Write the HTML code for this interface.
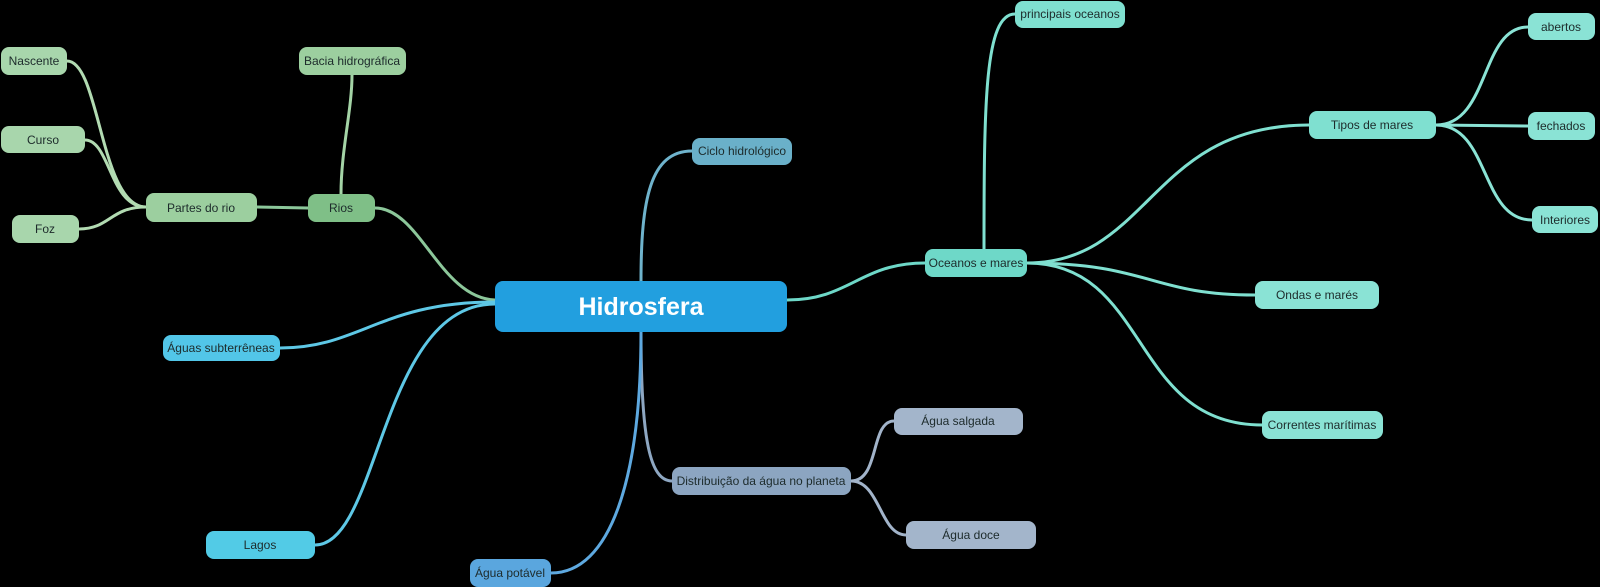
<!DOCTYPE html>
<html><head><meta charset="utf-8"><style>
html,body{margin:0;padding:0;background:#000;}
svg{display:block}
text{font-family:"Liberation Sans",sans-serif;font-size:12px;fill:#1d2b2b;text-anchor:middle;dominant-baseline:central}
</style></head><body>
<svg width="1600" height="587" viewBox="0 0 1600 587" xmlns="http://www.w3.org/2000/svg">
<g fill="none" stroke-width="3" stroke-linecap="round">
<path d="M495,300 C440,298 420,208 375,208" stroke="#8cc79a"/>
<path d="M308,208 L257,207" stroke="#8cc79a"/>
<path d="M341,194 C341,150 352,110 352,75" stroke="#a4d4a6"/>
<path d="M146,207 C100,207 100,61 67,61" stroke="#b2dbb2"/>
<path d="M146,207 C110,207 110,140 85,140" stroke="#b2dbb2"/>
<path d="M146,207 C110,207 110,229 79,229" stroke="#b2dbb2"/>
<path d="M495,302 C380,302 360,348 280,348" stroke="#5ec8e6"/>
<path d="M495,304 C380,304 380,545 315,545" stroke="#5ec8e6"/>
<path d="M641,281 C641,200 650,151 692,151" stroke="#6fb3cc"/>
<path d="M641,332 C641,440 650,481 672,481" stroke="#8ea7c2"/>
<path d="M641,332 C641,480 610,573 551,573" stroke="#5ea9e0"/>
<path d="M787,300 C850,300 860,263 925,263" stroke="#6ed8c8"/>
<path d="M984,249 C984,100 985,14 1015,14" stroke="#7fe0d0"/>
<path d="M1027,263 C1150,263 1150,125 1309,125" stroke="#7fe0d0"/>
<path d="M1027,263 C1150,263 1150,295 1255,295" stroke="#7fe0d0"/>
<path d="M1027,263 C1150,263 1130,425 1262,425" stroke="#7fe0d0"/>
<path d="M1436,125 C1490,125 1480,27 1528,27" stroke="#8ae3d5"/>
<path d="M1436,125 L1528,126" stroke="#8ae3d5"/>
<path d="M1436,125 C1490,125 1480,220 1532,220" stroke="#8ae3d5"/>
<path d="M851,481 C880,481 870,421 894,421" stroke="#a2b4ca"/>
<path d="M851,481 C880,481 880,535 906,535" stroke="#a2b4ca"/>
</g>
<g>
<rect x="495" y="281" width="292" height="51" rx="8" fill="#229fdf"/>
<text x="641" y="307" style="font-size:25px;font-weight:bold;fill:#fff">Hidrosfera</text>

<rect x="1" y="47" width="66" height="28" rx="8" fill="#a8d6ac"/><text x="34" y="61">Nascente</text>
<rect x="1" y="126" width="84" height="27" rx="8" fill="#a8d6ac"/><text x="43" y="140">Curso</text>
<rect x="12" y="215" width="67" height="28" rx="8" fill="#a8d6ac"/><text x="45" y="229">Foz</text>
<rect x="146" y="193" width="111" height="29" rx="8" fill="#9ccf9f"/><text x="201" y="208">Partes do rio</text>
<rect x="308" y="194" width="67" height="28" rx="8" fill="#7fbf87"/><text x="341" y="208">Rios</text>
<rect x="299" y="47" width="107" height="28" rx="8" fill="#9ccf9f"/><text x="352" y="61">Bacia hidrográfica</text>
<rect x="163" y="335" width="117" height="26" rx="8" fill="#52c6e8"/><text x="221" y="348">Águas subterrêneas</text>
<rect x="206" y="531" width="109" height="28" rx="8" fill="#52cbe6"/><text x="260" y="545">Lagos</text>
<rect x="470" y="559" width="81" height="28" rx="8" fill="#5aa6de"/><text x="510" y="573">Água potável</text>
<rect x="692" y="138" width="100" height="27" rx="8" fill="#6ab0c9"/><text x="742" y="151">Ciclo hidrológico</text>
<rect x="672" y="467" width="179" height="28" rx="8" fill="#8ca5c1"/><text x="761" y="481">Distribuição da água no planeta</text>
<rect x="894" y="408" width="129" height="27" rx="8" fill="#a3b5cb"/><text x="958" y="421">Água salgada</text>
<rect x="906" y="521" width="130" height="28" rx="8" fill="#a3b5cb"/><text x="971" y="535">Água doce</text>
<rect x="925" y="249" width="102" height="28" rx="8" fill="#6ed8c8"/><text x="976" y="263">Oceanos e mares</text>
<rect x="1015" y="1" width="110" height="27" rx="8" fill="#7fe0d0"/><text x="1070" y="14">principais oceanos</text>
<rect x="1309" y="111" width="127" height="28" rx="8" fill="#7fe0d0"/><text x="1372" y="125">Tipos de mares</text>
<rect x="1528" y="13" width="67" height="27" rx="8" fill="#8ae3d5"/><text x="1561" y="27">abertos</text>
<rect x="1528" y="112" width="67" height="28" rx="8" fill="#8ae3d5"/><text x="1561" y="126">fechados</text>
<rect x="1532" y="206" width="66" height="27" rx="8" fill="#8ae3d5"/><text x="1565" y="220">Interiores</text>
<rect x="1255" y="281" width="124" height="28" rx="8" fill="#8ae3d5"/><text x="1317" y="295">Ondas e marés</text>
<rect x="1262" y="411" width="121" height="28" rx="8" fill="#8ae3d5"/><text x="1322" y="425">Correntes marítimas</text>
</g>
</svg>
</body></html>
